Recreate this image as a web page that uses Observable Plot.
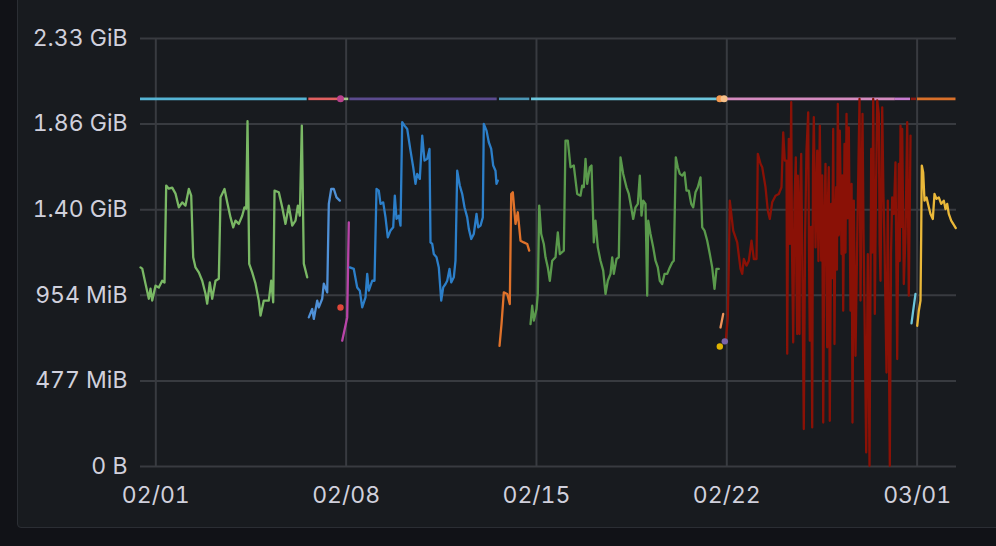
<!DOCTYPE html>
<html><head><meta charset="utf-8">
<script src="https://cdn.jsdelivr.net/npm/d3@7"></script>
<script src="https://cdn.jsdelivr.net/npm/@observablehq/plot@0.6"></script>
<style>
html,body{margin:0;padding:0;background:#111217;width:996px;height:546px;overflow:hidden;}
#panel{position:absolute;left:17px;top:-10px;width:995px;height:538px;background:#181b1f;border:1px solid #2b2e34;border-radius:4px;box-sizing:border-box;}
#chart{position:absolute;left:0;top:0;}
</style></head><body>
<div id="panel"></div>
<div id="chart"></div>
<script>
// ---- data: [day offset from 2021-02-01 00:00 UTC, value in GB (1e9 bytes)] ----
const green1 = [[-0.563,1.163],[-0.50,1.156],[-0.379,1.068],[-0.257,0.980],[-0.195,1.039],[-0.132,0.969],[-0.011,1.056],[0.110,1.045],[0.235,1.085],[0.320,1.074],[0.382,1.641],[0.478,1.623],[0.603,1.629],[0.725,1.594],[0.846,1.514],[0.971,1.543],[1.092,1.524],[1.214,1.621],[1.302,1.582],[1.375,1.222],[1.460,1.163],[1.581,1.134],[1.707,1.085],[1.828,1.009],[1.890,0.951],[1.986,1.075],[2.074,0.980],[2.196,1.085],[2.317,1.097],[2.380,1.572],[2.527,1.621],[2.626,1.543],[2.747,1.455],[2.847,1.397],[2.931,1.436],[3.053,1.417],[3.178,1.465],[3.262,1.514],[3.325,1.506],[3.373,2.017],[3.435,1.183],[3.545,1.134],[3.667,1.068],[3.788,0.969],[3.851,0.881],[3.972,0.969],[4.156,0.969],[4.244,1.085],[4.318,0.959],[4.366,1.611],[4.524,1.602],[4.649,1.514],[4.770,1.417],[4.891,1.524],[5.017,1.407],[5.138,1.436],[5.223,1.524],[5.296,1.465],[5.370,1.991],[5.443,1.185],[5.568,1.105]];
const blue1 = [[5.627,0.871],[5.752,0.920],[5.811,0.862],[5.936,0.969],[5.995,0.929],[6.120,0.980],[6.179,1.068],[6.304,1.017],[6.363,1.534],[6.451,1.621],[6.547,1.621],[6.646,1.572],[6.767,1.553]];
const magenta1 = [[6.855,0.735],[7.039,0.871],[7.098,1.426]];
const blue2 = [[7.135,1.163],[7.282,1.154],[7.407,1.046],[7.503,1.027],[7.591,0.929],[7.712,0.988],[7.775,1.125],[7.834,1.027],[7.959,1.085],[8.043,1.085],[8.117,1.621],[8.201,1.611],[8.264,1.534],[8.363,1.543],[8.448,1.455],[8.532,1.339],[8.632,1.378],[8.731,1.397],[8.790,1.582],[8.853,1.446],[8.937,1.465],[9.000,1.407],[9.062,2.011],[9.147,1.991],[9.246,1.972],[9.367,1.845],[9.467,1.748],[9.551,1.651],[9.614,1.709],[9.710,1.680],[9.798,1.933],[9.882,1.787],[9.982,1.797],[10.066,1.855],[10.103,1.309],[10.166,1.300],[10.224,1.241],[10.324,1.222],[10.408,1.163],[10.497,0.969],[10.570,1.046],[10.655,1.066],[10.717,1.085],[10.802,1.154],[10.864,1.075],[10.960,1.105],[11.022,1.202],[11.085,1.728],[11.180,1.641],[11.269,1.592],[11.353,1.514],[11.453,1.455],[11.512,1.388],[11.600,1.329],[11.695,1.358],[11.795,1.475],[11.857,1.397],[11.942,1.407],[12.026,1.455],[12.063,2.001],[12.163,1.962],[12.247,1.894],[12.335,1.855],[12.409,1.758],[12.493,1.728],[12.530,1.651],[12.578,1.670]];
const orange1 = [[12.641,0.705],[12.714,0.832],[12.799,1.017],[12.924,1.008],[13.019,0.949],[13.071,1.592],[13.130,1.602],[13.229,1.417],[13.314,1.485],[13.413,1.319],[13.534,1.309],[13.659,1.300],[13.733,1.261]];
const green2 = [[13.781,0.832],[13.843,0.939],[13.902,0.852],[14.002,0.920],[14.049,1.008],[14.101,1.524],[14.174,1.358],[14.270,1.300],[14.333,1.222],[14.417,1.163],[14.491,1.085],[14.579,1.202],[14.700,1.222],[14.785,1.368],[14.859,1.241],[15.006,1.261],[15.068,1.904],[15.153,1.904],[15.252,1.748],[15.373,1.758],[15.498,1.592],[15.620,1.582],[15.682,1.641],[15.741,1.631],[15.804,1.797],[15.866,1.651],[15.962,1.748],[16.024,1.758],[16.087,1.436],[16.109,1.309],[16.171,1.436],[16.256,1.280],[16.355,1.202],[16.455,1.144],[16.539,1.008],[16.624,1.085],[16.723,1.125],[16.786,1.222],[16.845,1.125],[16.944,1.212],[17.028,1.222],[17.091,1.806],[17.190,1.709],[17.311,1.631],[17.396,1.592],[17.484,1.514],[17.558,1.446],[17.642,1.514],[17.727,1.534],[17.801,1.699],[17.863,1.465],[17.926,1.553],[18.010,1.534],[18.073,0.998],[18.110,1.436],[18.194,1.358],[18.294,1.280],[18.378,1.202],[18.463,1.163],[18.536,1.085],[18.624,1.066],[18.709,1.125],[18.808,1.125],[18.904,1.163],[18.992,1.192],[19.051,1.202],[19.125,1.806],[19.198,1.748],[19.272,1.709],[19.360,1.699],[19.445,1.718],[19.518,1.611],[19.603,1.611],[19.691,1.534],[19.765,1.514],[19.849,1.602],[19.934,1.631],[20.033,1.689],[20.096,1.397],[20.180,1.378],[20.280,1.319],[20.375,1.241],[20.463,1.163],[20.548,1.037],[20.621,1.154],[20.706,1.154]];
const orange2 = [[20.769,0.812],[20.868,0.891]];
const darkRed = [[20.963,0.735],[21.037,0.871],[21.074,1.183],[21.110,1.553],[21.236,1.378],[21.383,1.309],[21.504,1.154],[21.567,1.125],[21.626,1.212],[21.725,1.173],[21.810,1.202],[21.909,1.319],[21.994,1.212],[22.093,1.212],[22.141,1.826],[22.240,1.768],[22.303,1.748],[22.424,1.631],[22.509,1.494],[22.582,1.446],[22.670,1.543],[22.792,1.582],[22.913,1.592],[23.012,1.631],[23.075,1.952],[23.133,1.787],
  [23.196,1.787],[23.209,1.20],[23.222,0.659],[23.25,1.45],[23.280,1.914],[23.32,1.30],[23.369,2.128],[23.40,1.25],[23.442,0.725],[23.49,1.55],[23.538,1.806],[23.56,1.10],[23.589,0.774],[23.611,1.699],[23.64,1.05],[23.674,0.774],[23.70,1.60],[23.736,1.826],[23.78,1.15],[23.832,0.219],[23.88,1.35],[23.931,1.845],[23.994,2.069],[24.02,1.30],[24.053,0.735],[24.10,1.40],[24.141,0.228],[24.17,1.75],[24.200,2.040],[24.263,1.280],[24.325,1.845],[24.37,1.20],[24.421,1.991],[24.472,1.202],[24.51,1.70],[24.546,0.257],[24.59,1.45],[24.630,1.768],[24.693,0.696],[24.72,1.55],[24.751,1.748],[24.788,0.267],[24.840,1.534],[24.875,1.10],[24.913,1.972],[24.961,0.715],[24.99,1.40],[25.024,1.631],[25.05,1.15],[25.083,2.118],[25.12,1.35],[25.156,1.962],[25.219,1.241],[25.25,1.70],[25.281,0.910],[25.329,1.884],[25.365,1.25],[25.403,2.060],[25.445,1.45],[25.487,1.981],[25.550,0.910],[25.59,1.65],[25.623,0.257],[25.671,1.553],[25.734,0.647],[25.796,1.319],[25.84,1.75],[25.881,2.147],[25.918,0.969],[25.955,1.60],[25.991,2.060],[26.03,1.35],[26.065,0.910],[26.127,0.082],[26.186,1.241],[26.249,0.004],[26.311,1.855],[26.35,1.25],[26.385,2.147],[26.444,0.891],[26.49,1.65],[26.532,2.138],[26.591,2.060],[26.62,1.30],[26.653,1.085],[26.716,2.098],[26.76,1.60],[26.800,1.300],[26.874,0.549],[26.921,1.553],[26.995,0.004],[27.04,1.25],[27.083,1.572],[27.142,1.475],[27.204,1.777],[27.267,0.628],[27.326,1.768],[27.36,1.20],[27.389,1.991],[27.42,1.40],[27.451,1.972],[27.510,1.066],[27.573,1.358],[27.635,2.011],[27.694,0.998],[27.757,1.933]];
const lightBlue = [[27.793,0.836],[27.855,0.910],[27.940,1.008]];
const yellow1 = [[28.003,0.822],[28.062,0.910],[28.124,0.969],[28.150,1.358],[28.172,1.758],[28.223,1.717],[28.271,1.553],[28.345,1.572],[28.430,1.514],[28.492,1.475],[28.577,1.446],[28.639,1.592],[28.713,1.563],[28.797,1.572],[28.885,1.534],[28.981,1.553],[29.043,1.504],[29.106,1.534],[29.165,1.475],[29.253,1.436],[29.327,1.417],[29.422,1.393]];
const seriesList = [green1, blue1, magenta1, blue2, orange1, green2, orange2, darkRed, lightBlue, yellow1];
const seriesColors = ["#7ab865", "#4f90d6", "#b844a8", "#2c7fc9", "#e0722a", "#5a9a4c", "#f0935a", "#8a1106", "#6cc6dc", "#eab839"];

// single-sample series
const singlePoints = [[6.793, 0.929], [20.743, 0.701], [20.927, 0.731]];
const singleColors = ["#e0473a", "#e0b400", "#7a63a8"];

// memory limit (2 GiB) per pod: start day, end day
const LIMIT = 2.147483648;
const limitStarts = [-0.563, 5.627, 6.855, 7.135, 12.641, 13.818, 21.0, 27.20, 27.782, 28.014];
const limitEnds   = [5.568, 6.730, 7.098, 12.556, 13.755, 20.647, 27.20, 27.757, 27.977, 29.43];
const limitColors = ["#55b4d4", "#e06060", "#a4c68a", "#5b4b8e", "#4b97b5", "#6cc6dc", "#d48bbf", "#c77bd0", "#8a1a12", "#d8702a"];
const limitPoints = [6.793, 20.743, 20.90];
const limitPointColors = ["#b8428c", "#f3994f", "#f6c08a"];

// axes
const xTickDays = [0, 7, 14, 21, 28];
const xTickLabels = ["02/01", "02/08", "02/15", "02/22", "03/01"];
const yTicks = [0, 0.5, 1, 1.5, 2, 2.5];
const yTickLabels = ["0 B", "477 MiB", "954 MiB", "1.40 GiB", "1.86 GiB", "2.33 GiB"];
const xDomainDays = [-0.563, 29.448];

// ---- build ----
const base = Date.UTC(2021, 1, 1);
const toDate = d => new Date(base + d * 864e5);
const xTicks = xTickDays.map(toDate);
const xLabelMap = new Map(xTicks.map((t, i) => [+t, xTickLabels[i]]));
const yLabelMap = new Map(yTicks.map((v, i) => [v, yTickLabels[i]]));

const limitSegs = limitStarts.map((s, i) => ({x1: toDate(s), x2: toDate(limitEnds[i]), c: limitColors[i]}));
const limitDots = limitPoints.map((d, i) => ({x: toDate(d), c: limitPointColors[i]}));
const dots = singlePoints.map((p, i) => ({x: toDate(p[0]), y: p[1], c: singleColors[i]}));

const gridColor = "#383b40";
const marks = [
  Plot.ruleY(yTicks, {stroke: gridColor, strokeWidth: 2}),
  Plot.ruleX(xTicks, {stroke: gridColor, strokeWidth: 2}),
  Plot.ruleY(limitSegs, {y: () => LIMIT, x1: "x1", x2: "x2", stroke: d => d.c, strokeWidth: 2.6}),
  Plot.dot(limitDots, {x: "x", y: () => LIMIT, fill: d => d.c, r: 3.5}),
  ...seriesList.map((s, i) => Plot.line(s, {x: d => toDate(d[0]), y: d => d[1], stroke: seriesColors[i], strokeWidth: 2.3, strokeLinejoin: "round"})),
  Plot.dot(dots, {x: "x", y: "y", fill: d => d.c, r: 3.2})
];

const chart = Plot.plot({
  width: 996, height: 546,
  marginLeft: 140, marginRight: 40, marginTop: 38, marginBottom: 80,
  style: {background: "transparent", color: "#d0d0dc", fontFamily: "Inter, 'Noto Sans', sans-serif", fontSize: "23px"},
  x: {type: "utc", domain: xDomainDays.map(toDate), ticks: xTicks, tickFormat: d => xLabelMap.get(+d), tickSize: 0, tickPadding: 20, label: null},
  y: {domain: [0, 2.5], ticks: yTicks, tickFormat: d => yLabelMap.get(d), tickSize: 0, tickPadding: 13, label: null},
  color: {type: "identity"},
  marks
});
document.getElementById("chart").appendChild(chart);
</script>
</body></html>
